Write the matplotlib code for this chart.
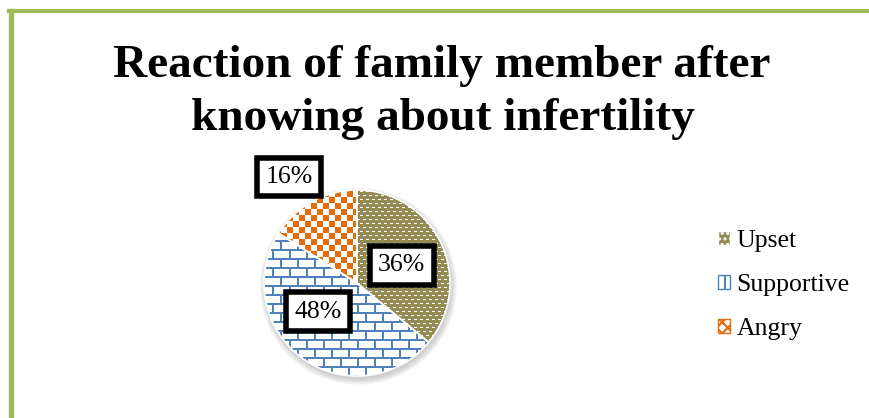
import numpy as np
import matplotlib
matplotlib.use("Agg")
import matplotlib.pyplot as plt
from matplotlib.patches import Patch, Circle
from matplotlib.lines import Line2D

TITLE_LINES = ["Reaction of family member after", "knowing about infertility"]
CATEGORIES = ["Upset", "Supportive", "Angry"]
PERCENTS = [36, 48, 16]
LABEL_POS = [(0.48, 0.19), (-0.42, -0.31), (-0.73, 1.14)]

OLIVE = "#948A54"
BLUE = "#4F81BD"
ORANGE = "#E46C0A"
GREEN = "#9BBB59"
SERIF = ["Liberation Serif", "DejaVu Serif"]

R_PX = 93  # pie radius in pixels


def texture(kind, n):
    yy, xx = np.indices((n, n))
    img = np.ones((n, n, 3))
    if kind == "upset":
        base = np.array(matplotlib.colors.to_rgb(OLIVE))
        img[:] = base
        shift = 3 * ((yy // 4) % 2)
        mask = (yy % 4 == 1) & (((xx + shift) % 6) >= 1) & (((xx + shift) % 6) <= 3)
        img[mask] = 1.0
    elif kind == "supportive":
        col = np.array(matplotlib.colors.to_rgb(BLUE))
        shift = 8 * ((yy // 9) % 2)
        mask = (yy % 9 < 2) | (((xx + shift) % 17) < 2)
        img[mask] = col
    else:
        col = np.array(matplotlib.colors.to_rgb(ORANGE))
        mask = ((xx // 6) + (yy // 6)) % 2 == 0
        img[mask] = col
    return img


def main():
    W, H = 869, 418
    fig = plt.figure(figsize=(W / 100, H / 100), dpi=100)

    # green frame lines
    fig.add_artist(Line2D([10.5 / W, 10.5 / W], [0, 1 - 10.5 / H],
                          transform=fig.transFigure, color=GREEN, lw=3.8))
    fig.add_artist(Line2D([8.5 / W, 1], [1 - 10.5 / H, 1 - 10.5 / H],
                          transform=fig.transFigure, color=GREEN, lw=3.0))

    # title
    fig.text(442 / W, 1 - 77 / H, TITLE_LINES[0], ha="center", va="baseline",
             fontsize=34, fontweight="bold", family=SERIF)
    fig.text(443 / W, 1 - 130 / H, TITLE_LINES[1], ha="center", va="baseline",
             fontsize=34, fontweight="bold", family=SERIF)

    # pie axes
    cx, cy = 357, 283
    lim = 1.35
    half = lim * R_PX
    ax = fig.add_axes([(cx - half) / W, (H - cy - half) / H, 2 * half / W, 2 * half / H])
    ax.set_axis_off()

    # soft shadow
    for i in range(6):
        ax.add_patch(Circle((0.015, -0.035), 1.0 + 0.012 * i, color="#808080",
                            alpha=0.07, lw=0, zorder=0.1))
    ax.add_patch(Circle((0, 0), 1.0, color="white", lw=0, zorder=0.2))

    wedges, _ = ax.pie(PERCENTS, startangle=90, counterclock=False, radius=1.0,
                       colors=["none"] * 3,
                       wedgeprops=dict(edgecolor="white", linewidth=1.2))
    for w in wedges:
        w.set_zorder(2)

    n = 2 * R_PX + 2
    for w, kind in zip(wedges, ["upset", "supportive", "angry"]):
        im = ax.imshow(texture(kind, n), extent=[-1.01, 1.01, -1.01, 1.01],
                       origin="lower", interpolation="nearest", zorder=1)
        im.set_clip_path(w)

    for (x, y), p in zip(LABEL_POS, PERCENTS):
        ax.text(x, y, f"{p}%", ha="center", va="center", fontsize=18.5,
                family=SERIF, zorder=5, clip_on=False,
                bbox=dict(boxstyle="square,pad=0.33", facecolor="white",
                          edgecolor="black", linewidth=4))

    ax.set_xlim(-lim, lim)
    ax.set_ylim(-lim, lim)
    ax.set_aspect("equal")

    # legend
    handles = [
        Patch(facecolor=OLIVE, edgecolor="white", hatch="...", label=CATEGORIES[0]),
        Patch(facecolor="white", edgecolor=BLUE, hatch="+", label=CATEGORIES[1]),
        Patch(facecolor="white", edgecolor=ORANGE, hatch="xxx", label=CATEGORIES[2]),
    ]
    plt.rcParams["hatch.linewidth"] = 1.5
    fig.legend(handles=handles, loc="center left", bbox_to_anchor=(708 / W, 1 - 285 / H),
               frameon=False, prop={"family": SERIF, "size": 18.5},
               handlelength=0.45, handleheight=0.45, handletextpad=0.25,
               labelspacing=0.85, borderaxespad=0)

    fig.savefig("out.png", dpi=100)


if __name__ == "__main__":
    main()
